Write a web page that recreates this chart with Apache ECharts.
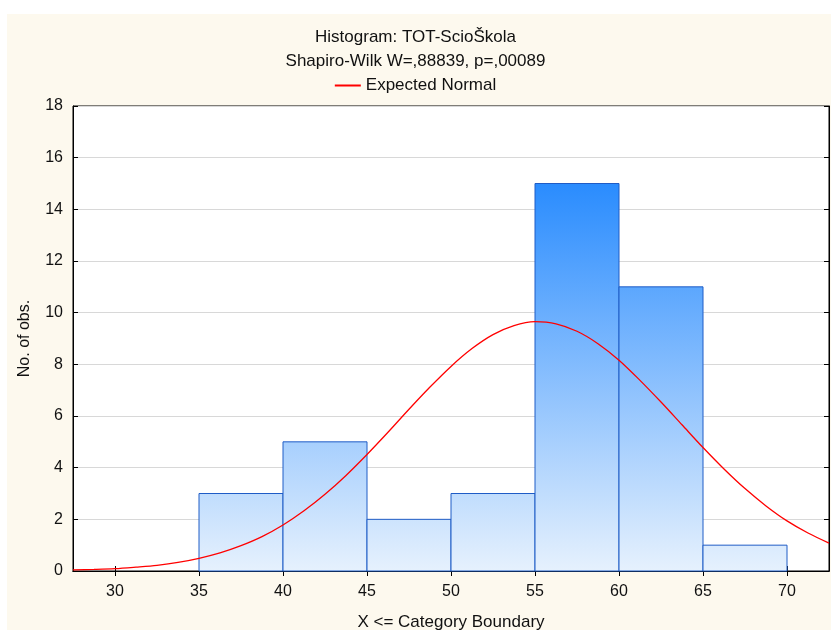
<!DOCTYPE html>
<html>
<head>
<meta charset="utf-8">
<script src="https://cdn.jsdelivr.net/npm/echarts@6/dist/echarts.min.js"></script>
<style>
  html, body { margin: 0; padding: 0; background: #fff; }
  #main { width: 831px; height: 630px; }
</style>
</head>
<body>
<div id="main"></div>
<script>
// histogram bins (upper boundary = X <= category boundary)
var binStart = [35, 40, 45, 50, 55, 60, 65];
var binEnd = [40, 45, 50, 55, 60, 65, 70];
var counts = [3, 5, 2, 3, 15, 11, 1];

// expected normal curve
var curveX = [27.5, 28.75, 30, 31.25, 32.5, 33.75, 35, 36.25, 37.5, 38.75, 40, 41.25, 42.5, 43.75,
  45, 46.25, 47.5, 48.75, 50, 51.25, 52.5, 53.75, 55, 56.25, 57.5, 58.75, 60, 61.25, 62.5, 63.75,
  65, 66.25, 67.5, 68.75, 70, 71.25, 72.5];
var curveY = [0.04, 0.06, 0.09, 0.15, 0.22, 0.33, 0.49, 0.70, 0.98, 1.33, 1.78, 2.33, 2.97, 3.70,
  4.51, 5.37, 6.26, 7.12, 7.92, 8.61, 9.15, 9.50, 9.65, 9.57, 9.28, 8.80, 8.16, 7.38, 6.54, 5.66,
  4.78, 3.95, 3.19, 2.52, 1.94, 1.47, 1.08];

var xTicks = [30, 35, 40, 45, 50, 55, 60, 65, 70];

var chart = echarts.init(document.getElementById('main'));

var font = 'Liberation Sans, Arial, sans-serif';

var barData = binStart.map(function (s, i) { return [s, binEnd[i], counts[i]]; });
var curveData = curveX.map(function (x, i) { return [x, curveY[i]]; });

// gradient across the plot height (deep blue at top of tallest bar, pale at base)
var barFill = new echarts.graphic.LinearGradient(0, 184, 0, 571, [
  {offset: 0, color: '#2a8cfe'},
  {offset: 1, color: '#e6f1fd'}
], true);

chart.setOption({
  animation: false,
  graphic: [{
    type: 'rect',
    shape: {x: 7, y: 14, width: 824, height: 616},
    style: {fill: '#fdf9ee'},
    z: -100,
    silent: true
  }],
  title: {
    text: 'Histogram: TOT-ScioŠkola',
    subtext: 'Shapiro-Wilk W=,88839, p=,00089',
    left: 'center',
    top: 24,
    itemGap: 7,
    textStyle: {fontFamily: font, fontSize: 17, fontWeight: 'normal', color: '#111'},
    subtextStyle: {fontFamily: font, fontSize: 17, color: '#111'}
  },
  legend: {
    top: 72,
    left: 'center',
    data: ['Expected Normal'],
    icon: 'rect',
    itemWidth: 26,
    itemHeight: 2,
    itemGap: 8,
    textStyle: {fontFamily: font, fontSize: 17, color: '#111'}
  },
  grid: {
    left: 73, right: 2, top: 106, bottom: 59,
    outerBoundsMode: 'none',
    containLabel: false,
    show: true,
    backgroundColor: '#fff',
    borderColor: '#000',
    borderWidth: 1
  },
  xAxis: [{
    type: 'value',
    min: 27.5, max: 72.5,
    name: 'X <= Category Boundary',
    nameLocation: 'middle',
    nameGap: 43,
    nameTextStyle: {fontFamily: font, fontSize: 17, color: '#111'},
    axisLine: {lineStyle: {color: '#000'}},
    axisTick: {inside: true, length: 5, lineStyle: {color: '#000'}, customValues: xTicks},
    axisLabel: {fontFamily: font, fontSize: 16, color: '#111', margin: 13, customValues: xTicks},
    splitLine: {show: false}
  }, {
    type: 'value',
    position: 'top',
    min: 27.5, max: 72.5,
    axisLine: {show: true, lineStyle: {color: '#000'}},
    axisTick: {inside: true, length: 5, lineStyle: {color: '#000'}, customValues: xTicks},
    axisLabel: {show: false},
    splitLine: {show: false}
  }],
  yAxis: [{
    type: 'value',
    min: 0, max: 18, interval: 2,
    name: 'No. of obs.',
    nameLocation: 'middle',
    nameGap: 40,
    nameTextStyle: {fontFamily: font, fontSize: 16, color: '#111'},
    axisLine: {show: true, lineStyle: {color: '#000'}},
    axisTick: {show: true, inside: true, length: 5, lineStyle: {color: '#000'}},
    axisLabel: {fontFamily: font, fontSize: 16, color: '#111', margin: 10},
    splitLine: {show: true, lineStyle: {color: '#d8d8d8', width: 1}}
  }, {
    type: 'value',
    position: 'right',
    min: 0, max: 18, interval: 2,
    axisLine: {show: true, lineStyle: {color: '#000'}},
    axisTick: {show: true, inside: true, length: 5, lineStyle: {color: '#000'}},
    axisLabel: {show: false},
    splitLine: {show: false}
  }],
  series: [{
    name: 'Counts',
    type: 'custom',
    xAxisIndex: 0,
    yAxisIndex: 0,
    data: barData,
    encode: {x: [0, 1], y: 2},
    renderItem: function (params, api) {
      var p0 = api.coord([api.value(0), api.value(2)]);
      var p1 = api.coord([api.value(1), 0]);
      return {
        type: 'rect',
        shape: {x: p0[0], y: p0[1], width: p1[0] - p0[0], height: p1[1] - p0[1]},
        style: {fill: barFill, stroke: '#1f5cc6', lineWidth: 1}
      };
    },
    z: 2
  }, {
    name: 'Expected Normal',
    type: 'line',
    data: curveData,
    smooth: 0.3,
    symbol: 'none',
    lineStyle: {color: '#ff0000', width: 1.3},
    itemStyle: {color: '#ff0000'},
    z: 3
  }]
});
</script>
</body>
</html>
